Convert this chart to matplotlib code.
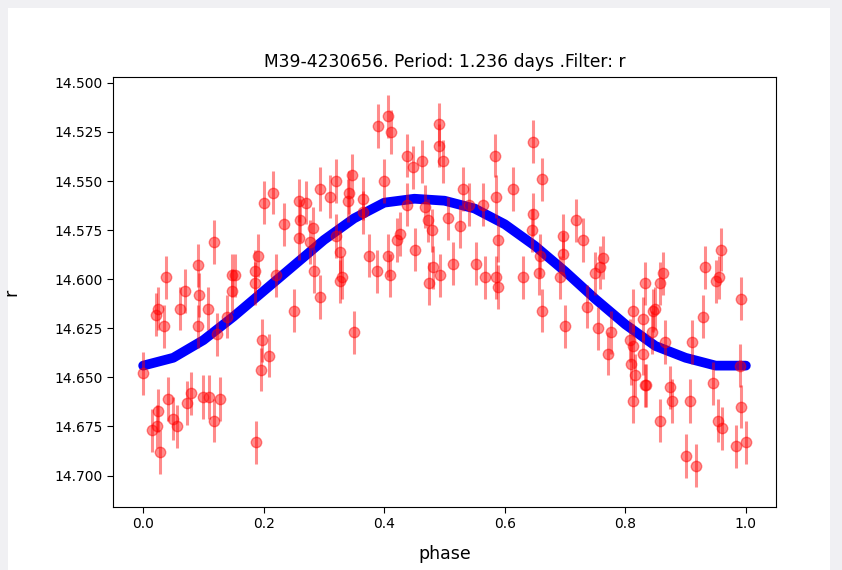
import numpy as np
import matplotlib
matplotlib.use("Agg")
import matplotlib.pyplot as plt
from matplotlib.patches import Rectangle

# folded light curve
phase = [0.000, 0.038, 0.025, 0.022, 0.034, 0.061, 0.070, 0.091, 0.092, 0.091,
         0.107, 0.117, 0.123, 0.139, 0.147, 0.153, 0.147, 0.186, 0.190, 0.186,
         0.201, 0.215, 0.197, 0.195, 0.187, 0.208, 0.025, 0.023, 0.014, 0.028,
         0.042, 0.049, 0.056, 0.072, 0.079, 0.100, 0.110, 0.128, 0.118,
         0.233, 0.221, 0.258, 0.271, 0.260, 0.258, 0.281, 0.277, 0.283, 0.294,
         0.251, 0.294, 0.310, 0.320, 0.346, 0.342, 0.340, 0.320, 0.327, 0.330,
         0.327, 0.365, 0.364, 0.350, 0.374, 0.388, 0.399, 0.390, 0.407, 0.412,
         0.407, 0.410, 0.437, 0.448, 0.462, 0.491, 0.491, 0.497, 0.437, 0.426,
         0.421, 0.451, 0.468, 0.473, 0.479, 0.481, 0.492, 0.475, 0.506, 0.525,
         0.514, 0.531, 0.541, 0.564, 0.553, 0.567, 0.584, 0.585, 0.589, 0.586,
         0.589, 0.613, 0.631, 0.647, 0.661, 0.647, 0.645, 0.658, 0.656, 0.661,
         0.697, 0.697, 0.692, 0.700, 0.719, 0.730, 0.736, 0.763, 0.758, 0.750,
         0.755, 0.777, 0.772, 0.833, 0.813, 0.830, 0.808, 0.813, 0.810, 0.816,
         0.833, 0.813, 0.830, 0.846, 0.863, 0.857, 0.849, 0.844, 0.866, 0.835,
         0.874, 0.877, 0.857, 0.910, 0.907, 0.929, 0.932, 0.959, 0.955, 0.951,
         0.946, 0.954, 0.960, 0.901, 0.918, 0.992, 0.990, 0.992, 0.984, 1.001]
mag = [14.648, 14.599, 14.615, 14.618, 14.624, 14.615, 14.606, 14.593, 14.608, 14.624,
       14.615, 14.581, 14.628, 14.619, 14.598, 14.598, 14.606, 14.596, 14.588, 14.602,
       14.561, 14.556, 14.631, 14.646, 14.683, 14.639, 14.667, 14.675, 14.677, 14.688,
       14.661, 14.671, 14.675, 14.663, 14.658, 14.660, 14.660, 14.661, 14.672,
       14.572, 14.598, 14.560, 14.561, 14.570, 14.579, 14.574, 14.581, 14.596, 14.609,
       14.616, 14.554, 14.558, 14.550, 14.547, 14.556, 14.560, 14.578, 14.586, 14.599,
       14.601, 14.559, 14.566, 14.627, 14.588, 14.596, 14.550, 14.522, 14.517, 14.525,
       14.588, 14.598, 14.537, 14.543, 14.540, 14.521, 14.532, 14.540, 14.562, 14.577,
       14.580, 14.585, 14.563, 14.570, 14.575, 14.594, 14.598, 14.602, 14.569, 14.573,
       14.592, 14.554, 14.562, 14.562, 14.592, 14.599, 14.537, 14.558, 14.580, 14.599,
       14.604, 14.554, 14.599, 14.530, 14.549, 14.567, 14.575, 14.588, 14.597, 14.616,
       14.578, 14.587, 14.599, 14.624, 14.570, 14.580, 14.614, 14.589, 14.594, 14.597,
       14.625, 14.627, 14.638, 14.602, 14.616, 14.620, 14.631, 14.634, 14.643, 14.649,
       14.654, 14.662, 14.638, 14.616, 14.597, 14.602, 14.615, 14.627, 14.632, 14.654,
       14.655, 14.662, 14.672, 14.632, 14.662, 14.619, 14.594, 14.585, 14.599, 14.601,
       14.653, 14.672, 14.676, 14.690, 14.695, 14.610, 14.644, 14.665, 14.685, 14.683]
mag_err = 0.011

# fitted model curve
curve_phase = [0.00, 0.05, 0.10, 0.15, 0.20, 0.25, 0.30, 0.35, 0.40, 0.45, 0.50,
               0.55, 0.60, 0.65, 0.70, 0.75, 0.80, 0.85, 0.90, 0.95, 1.00]
curve_mag = [14.644, 14.640, 14.631, 14.619, 14.606, 14.593, 14.580, 14.569, 14.561, 14.559, 14.560,
             14.564, 14.572, 14.583, 14.596, 14.610, 14.623, 14.634, 14.640, 14.644, 14.644]

title = "M39-4230656. Period: 1.236 days .Filter: r"

fig = plt.figure(figsize=(8.42, 5.70), dpi=100)
fig.patch.set_facecolor("#f0f0f3")
fig.patches.append(Rectangle((8/842, 0), 822/842, 562/570, transform=fig.transFigure,
                             facecolor="white", edgecolor="none", zorder=-10))

ax = fig.add_axes([113/842, 1 - 507/570, 663/842, 430/570])
ax.plot(curve_phase, curve_mag, color="blue", lw=7, solid_capstyle="round",
        solid_joinstyle="round")
ax.errorbar(phase, mag, yerr=mag_err, fmt="o", color="red", alpha=0.45,
            ms=7.5, elinewidth=2.2)

ax.set_xlim(-0.05, 1.05)
ax.set_ylim(14.716, 14.497)
ax.set_xticks(np.arange(0, 1.01, 0.2))
ax.set_yticks(np.arange(14.5, 14.701, 0.025))
ax.set_yticklabels(["%.3f" % v for v in np.arange(14.5, 14.701, 0.025)])
ax.tick_params(labelsize=10, length=4.5, pad=3)
ax.set_xlabel("phase", fontsize=12.5, labelpad=10)
ax.set_ylabel("r", fontsize=12.5)
ax.yaxis.set_label_coords(-0.14, 0.5)
ax.set_title(title, fontsize=12.3, pad=7)

fig.savefig("out.png", dpi=100, facecolor=fig.get_facecolor())
